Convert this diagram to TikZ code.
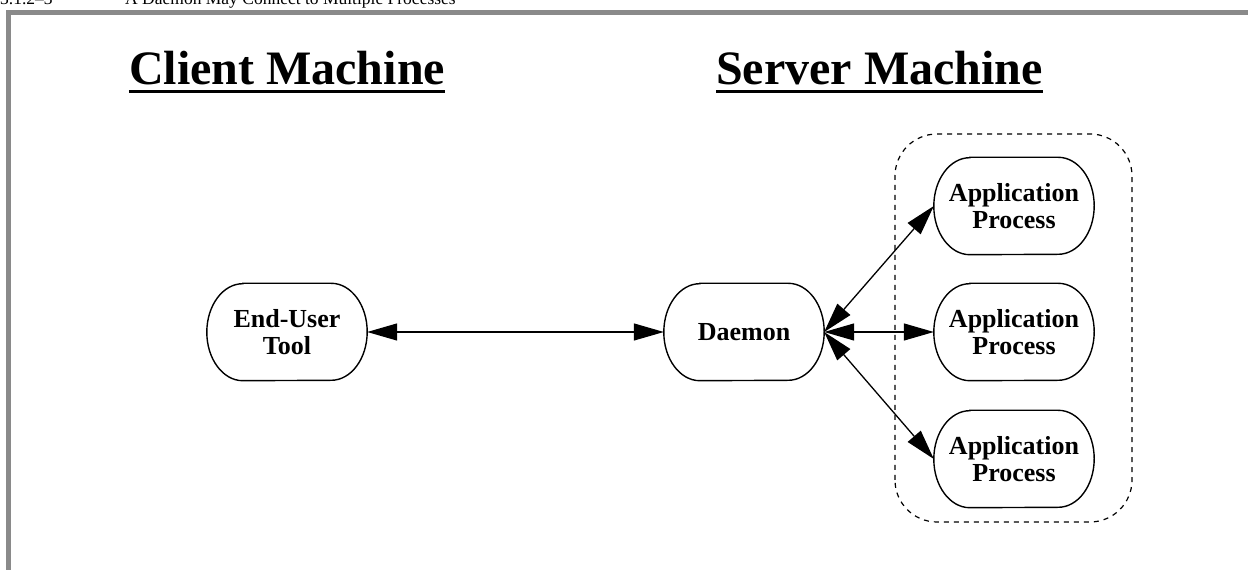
\documentclass[tikz,border=0pt]{standalone}
\usepackage{fontspec}
\setmainfont{Liberation Serif}
\usetikzlibrary{arrows.meta}
\definecolor{framegray}{HTML}{8A8A8A}
\tikzset{
  procbox/.style={minimum width=160pt, minimum height=97pt, inner sep=0pt,
    align=center, font=\fontsize{26pt}{27.6pt}\selectfont\bfseries},
  heading/.style={anchor=base, inner sep=0pt, font=\fontsize{48pt}{50pt}\selectfont\bfseries},
  caption/.style={anchor=base west, inner sep=0pt, font=\fontsize{17.5pt}{19pt}\selectfont},
  link/.style={line width=1.3pt, {Triangle[length=30pt,width=17pt]}-{Triangle[length=30pt,width=17pt]}},
  outline/.style={line width=1.4pt},
  group/.style={line width=1.2pt, dash pattern=on 5pt off 5pt, rounded corners=42pt},
  frame/.style={line width=5pt, draw=framegray}
}
\begin{document}
\begin{tikzpicture}[x=1pt,y=1pt]
\useasboundingbox (0,0) rectangle (1248,570);

% page frame and running caption
\draw[frame] (8.5,-5) -- (8.5,557) -- (1260,557);
\node[caption] (secnum) at (0,565) {3.1.2--3};
\node[caption] (sectitle) at (125,565) {A Daemon May Connect to Multiple Processes};

% machine headings
\node[heading] (client) at (287,485) {Client Machine};
\node[heading] (server) at (879.5,485) {Server Machine};
\draw[line width=2.4pt] ([yshift=-6.5pt]client.base west) -- ([yshift=-6.5pt]client.base east);
\draw[line width=2.4pt] ([yshift=-6.5pt]server.base west) -- ([yshift=-6.5pt]server.base east);

% group of application processes
\draw[group] (895,48) rectangle (1132,436);

% processes
\node[procbox] (tool) at (287,238) {End-User\\Tool};
\node[procbox] (daemon) at (744,238) {Daemon};
\node[procbox] (app1) at (1014,364) {Application\\Process};
\node[procbox] (app2) at (1014,238) {Application\\Process};
\node[procbox] (app3) at (1014,111) {Application\\Process};

\foreach \n in {tool,daemon,app1,app2,app3}{
  \draw[outline] ([xshift=36pt]\n.north west) -- ([xshift=-36pt]\n.north east)
    arc[start angle=90,end angle=-90,x radius=36pt,y radius=48.5pt]
    -- ([xshift=36pt]\n.south west)
    arc[start angle=270,end angle=90,x radius=36pt,y radius=48.5pt] -- cycle;
}

% connections
\draw[link] (tool.east) -- (daemon.west);
\draw[link] (daemon.east) -- (app1.west);
\draw[link] (daemon.east) -- (app2.west);
\draw[link] (daemon.east) -- (app3.west);
\end{tikzpicture}
\end{document}
